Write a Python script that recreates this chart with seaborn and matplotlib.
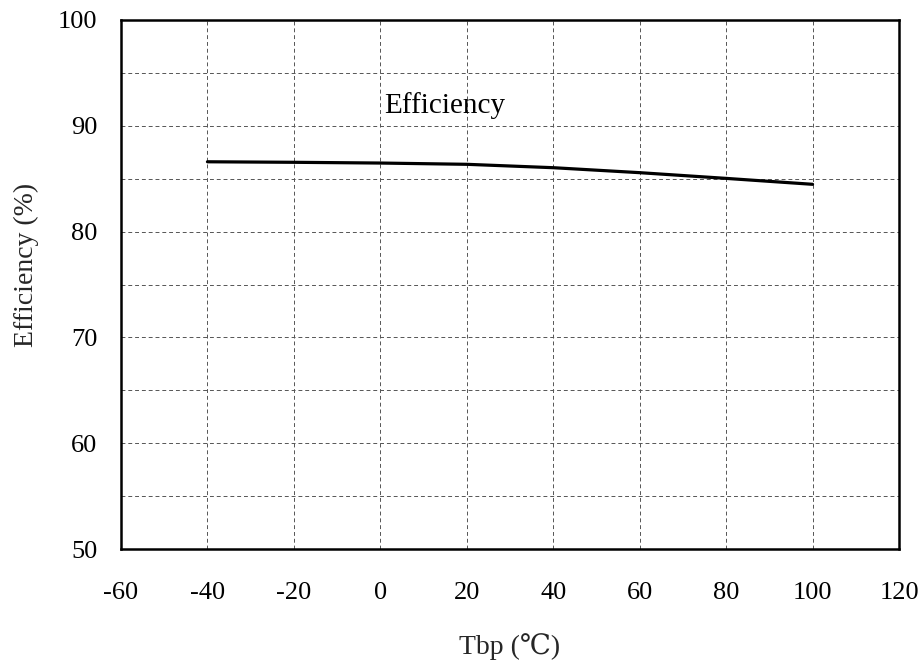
import matplotlib
matplotlib.use("Agg")
import matplotlib.pyplot as plt
import seaborn as sns
import pandas as pd

# Data
temperature = [-40, -20, 0, 20, 40, 60, 80, 100]
efficiency = [86.6, 86.55, 86.48, 86.36, 86.04, 85.57, 85.03, 84.47]
x_ticks = [-60, -40, -20, 0, 20, 40, 60, 80, 100, 120]
y_ticks = [50, 55, 60, 65, 70, 75, 80, 85, 90, 95, 100]
y_labels = ["50", "", "60", "", "70", "", "80", "", "90", "", "100"]
series_label = "Efficiency"
x_title = "Tbp (℃)"
y_title = "Efficiency (%)"

sns.set_style("white")
FAMS = ['Liberation Serif', 'DejaVu Serif', 'Noto Sans CJK SC']
plt.rcParams['font.family'] = FAMS

df = pd.DataFrame({"T": temperature, "Eff": efficiency})

fig = plt.figure(figsize=(9.24, 6.66), dpi=100)
ax = fig.add_axes([121/924, 1 - 549/666, (899-121)/924, (549-20)/666])

sns.lineplot(data=df, x="T", y="Eff", ax=ax, color="black", linewidth=2.3)

ax.set_xlim(-60, 120)
ax.set_ylim(50, 100)
ax.set_xticks(x_ticks)
ax.set_xticklabels([str(v) for v in x_ticks], family=FAMS)
ax.set_yticks(y_ticks)
ax.set_yticklabels(y_labels, family=FAMS)

ax.grid(True, which="major", linestyle=(0, (4, 3)), color="#555555", linewidth=0.7)
ax.set_axisbelow(True)

for s in ax.spines.values():
    s.set_visible(True)
    s.set_color("black")
    s.set_linewidth(1.8)

ax.tick_params(axis="both", length=0, labelsize=19, colors="black")
ax.tick_params(axis="x", pad=24)
ax.tick_params(axis="y", pad=17)

ax.set_xlabel(x_title, fontsize=20, labelpad=21, family=FAMS)
ax.set_ylabel(y_title, fontsize=20, family=FAMS)
ax.yaxis.set_label_coords(-0.106, 0.537)

ax.text(1.0, 91.2, series_label, fontsize=21, va="baseline", ha="left",
        color="black", family=FAMS)

fig.savefig("out.png", dpi=100)
